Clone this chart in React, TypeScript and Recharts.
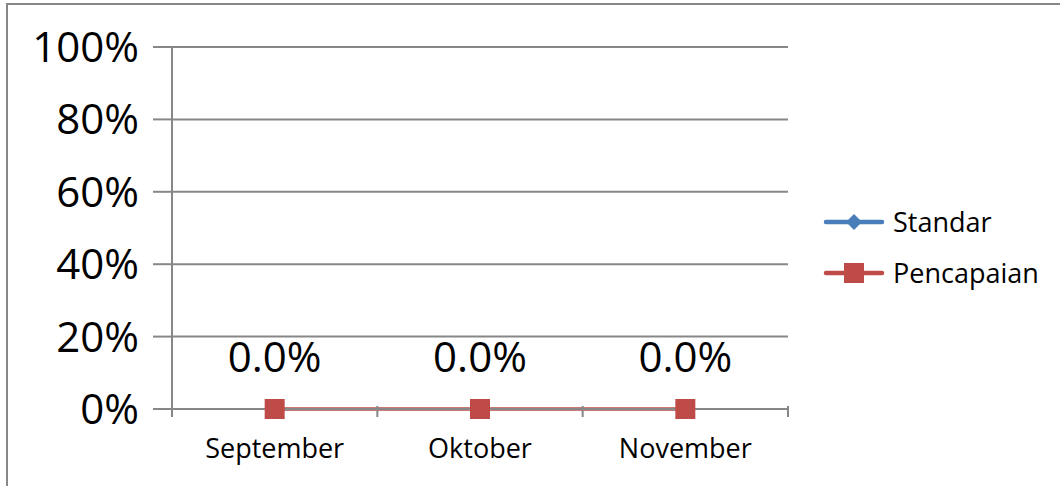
import React from "react";
import {
  CartesianGrid,
  LabelList,
  Line,
  LineChart,
  XAxis,
  YAxis,
} from "recharts";

const months = ["September", "Oktober", "November"];
const standar: (number | null)[] = [null, null, null];
const pencapaian = [0, 0, 0];
const yTicks = [0, 0.2, 0.4, 0.6, 0.8, 1];

const data = months.map((month, i) => ({
  month,
  standar: standar[i],
  pencapaian: pencapaian[i],
}));

const WIDTH = 1060;
const HEIGHT = 486;
const MARGIN = { top: 47, right: 272, bottom: 0, left: 0 };
const Y_WIDTH = 172;
const PLOT_W = WIDTH - MARGIN.right - Y_WIDTH;
const HALF_BAND = PLOT_W / months.length / 2;

const FONT = "'Open Sans', 'Noto Sans', sans-serif";
const GRID = "#878787";
const BLUE = "#4A7EBB";
const RED = "#BE4B48";

const pct = (v: number) => `${Math.round(v * 100)}%`;

interface TickProps {
  x?: number;
  y?: number;
  index?: number;
  payload?: { value: string };
}

// category ticks sit between the months, like the spreadsheet chart
function MonthTick({ x = 0, y = 0, index = 0, payload }: TickProps) {
  return (
    <g>
      {index === 0 && (
        <line x1={x - HALF_BAND} x2={x - HALF_BAND} y1={y - 11} y2={y} stroke={GRID} strokeWidth={2} />
      )}
      <line x1={x + HALF_BAND} x2={x + HALF_BAND} y1={y - 11} y2={y} stroke={GRID} strokeWidth={2} />
      <text x={x} y={y + 41} textAnchor="middle" fontSize={27} fontFamily={FONT} fill="#000">
        {payload?.value}
      </text>
    </g>
  );
}

interface LabelProps {
  x?: number;
  y?: number;
  value?: number;
}

function ValueLabel({ x = 0, y = 0, value = 0 }: LabelProps) {
  return (
    <text x={x} y={y - 37} textAnchor="middle" fontSize={42} fontFamily={FONT} fill="#000">
      {`${(value * 100).toFixed(1)}%`}
    </text>
  );
}

interface DotProps {
  cx?: number | null;
  cy?: number | null;
  value?: number | null;
}

function DiamondDot({ cx, cy, value }: DotProps) {
  if (value == null || cx == null || cy == null) return <g />;
  return <path d={`M${cx},${cy - 8} L${cx + 8},${cy} L${cx},${cy + 8} L${cx - 8},${cy} Z`} fill={BLUE} />;
}

function SquareDot({ cx, cy, value }: DotProps) {
  if (value == null || cx == null || cy == null) return <g />;
  return <rect x={cx - 10} y={cy - 10} width={20} height={20} fill={RED} />;
}

const legendItems = [
  { name: "Standar", color: BLUE, shape: "diamond" },
  { name: "Pencapaian", color: RED, shape: "square" },
];

function ChartLegend() {
  return (
    <div
      style={{
        position: "absolute",
        left: 823,
        top: 196,
        fontFamily: FONT,
        fontSize: 27,
        color: "#000",
      }}
    >
      {legendItems.map((item) => (
        <div key={item.name} style={{ display: "flex", alignItems: "center", height: 51 }}>
          <svg width={62} height={24} style={{ marginRight: 8 }}>
            <line x1={3} x2={59} y1={12} y2={12} stroke={item.color} strokeWidth={4.5} strokeLinecap="round" />
            {item.shape === "diamond" ? (
              <path d="M31,4 L39,12 L31,20 L23,12 Z" fill={item.color} />
            ) : (
              <rect x={21} y={2} width={20} height={20} fill={item.color} />
            )}
          </svg>
          <span>{item.name}</span>
        </div>
      ))}
    </div>
  );
}

export default function App() {
  return (
    <div style={{ position: "absolute", left: 0, top: 0, width: WIDTH, height: HEIGHT, background: "#fff" }}>
      <div
        style={{
          position: "absolute",
          left: 6,
          top: 3,
          right: 0,
          bottom: 0,
          borderLeft: `2px solid ${GRID}`,
          borderTop: `2px solid ${GRID}`,
        }}
      />
      <LineChart width={WIDTH} height={HEIGHT} data={data} margin={MARGIN} style={{ position: "absolute", left: 0, top: 0 }}>
        <CartesianGrid vertical={false} stroke={GRID} strokeWidth={2} />
        <XAxis
          dataKey="month"
          height={77}
          padding={{ left: HALF_BAND, right: HALF_BAND }}
          axisLine={{ stroke: GRID, strokeWidth: 2 }}
          tickLine={false}
          tick={<MonthTick />}
          interval={0}
        />
        <YAxis
          width={Y_WIDTH}
          domain={[0, 1]}
          ticks={yTicks}
          tickFormatter={pct}
          tickSize={19}
          tickMargin={14}
          axisLine={{ stroke: GRID, strokeWidth: 2 }}
          tickLine={{ stroke: GRID, strokeWidth: 2 }}
          tick={{ fontSize: 42, fontFamily: FONT, fill: "#000" }}
        />
        <Line
          dataKey="standar"
          name="Standar"
          stroke={BLUE}
          strokeWidth={3.5}
          dot={<DiamondDot />}
          isAnimationActive={false}
        />
        <Line
          dataKey="pencapaian"
          name="Pencapaian"
          stroke={RED}
          strokeWidth={3.5}
          dot={<SquareDot />}
          isAnimationActive={false}
        >
          <LabelList dataKey="pencapaian" content={<ValueLabel />} />
        </Line>
      </LineChart>
      <ChartLegend />
    </div>
  );
}
